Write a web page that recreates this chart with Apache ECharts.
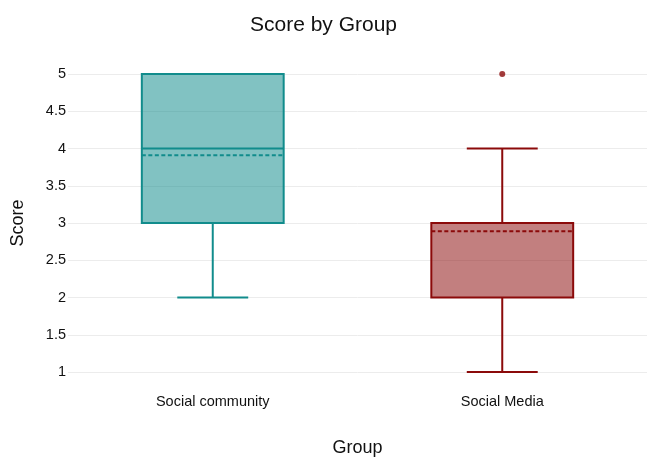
<!DOCTYPE html>
<html>
<head>
<meta charset="utf-8">
<script src="https://cdn.jsdelivr.net/npm/echarts@6/dist/echarts.min.js"></script>
<style>
  html, body { margin: 0; padding: 0; background: #fff; }
  #chart { width: 647px; height: 462px; }
</style>
</head>
<body>
<div id="chart"></div>
<script>
// Score distribution per group
const categories = ['Social community', 'Social Media'];
const lowerWhisker = [2, 1];
const q1 = [3, 2];
const median = [4, 3];
const q3 = [5, 3];
const upperWhisker = [5, 4];
const means = [3.91, 2.89];
const outliers = [[1, 5]]; // [group index, score]
const yTicks = [1, 1.5, 2, 2.5, 3, 3.5, 4, 4.5, 5];

const strokeColors = ['#118c8c', '#8b0a0a'];
const fillColors = ['rgba(17,140,140,0.53)', 'rgba(139,10,10,0.52)'];
const font = 'Liberation Sans';
const textColor = '#111';

const boxData = categories.map((c, i) =>
  [i, lowerWhisker[i], q1[i], median[i], q3[i], upperWhisker[i], means[i]]);

const chart = echarts.init(document.getElementById('chart'), null, { renderer: 'canvas' });

function renderBox(params, api) {
  const i = api.value(0);
  const band = api.size([1, 0])[0];
  const boxW = band * 0.49;
  const capW = boxW * 0.5;
  const cx = api.coord([i, 0])[0];
  const yLo = api.coord([i, api.value(1)])[1];
  const yQ1 = api.coord([i, api.value(2)])[1];
  const yMed = api.coord([i, api.value(3)])[1];
  const yQ3 = api.coord([i, api.value(4)])[1];
  const yHi = api.coord([i, api.value(5)])[1];
  const yMean = api.coord([i, api.value(6)])[1];
  const stroke = strokeColors[i];
  const lineStyle = { stroke: stroke, lineWidth: 2, fill: null };
  const x0 = cx - boxW / 2, x1 = cx + boxW / 2;
  const children = [
    { type: 'line', shape: { x1: cx, y1: yQ3, x2: cx, y2: yHi }, style: lineStyle },
    { type: 'line', shape: { x1: cx, y1: yQ1, x2: cx, y2: yLo }, style: lineStyle },
    { type: 'line', shape: { x1: cx - capW / 2, y1: yHi, x2: cx + capW / 2, y2: yHi }, style: lineStyle },
    { type: 'line', shape: { x1: cx - capW / 2, y1: yLo, x2: cx + capW / 2, y2: yLo }, style: lineStyle },
    { type: 'rect', shape: { x: x0, y: yQ3, width: boxW, height: yQ1 - yQ3 },
      style: { fill: fillColors[i], stroke: stroke, lineWidth: 2 } },
    { type: 'line', shape: { x1: x0, y1: yMed, x2: x1, y2: yMed }, style: lineStyle },
    { type: 'line', shape: { x1: x0, y1: yMean, x2: x1, y2: yMean },
      style: { stroke: stroke, lineWidth: 2, lineDash: [4, 2.5], fill: null } }
  ];
  return { type: 'group', children: children };
}

chart.setOption({
  backgroundColor: '#ffffff',
  animation: false,
  title: {
    text: 'Score by Group',
    left: 'center',
    top: 10,
    textStyle: { fontFamily: font, fontSize: 21, fontWeight: 'normal', color: textColor }
  },
  grid: { left: 68, right: 0, top: 74, bottom: 85 },
  xAxis: {
    type: 'category',
    data: categories,
    name: 'Group',
    nameLocation: 'middle',
    nameGap: 67,
    nameTextStyle: { fontFamily: font, fontSize: 18, color: textColor },
    axisLine: { show: false },
    axisTick: { show: false },
    axisLabel: { fontFamily: font, fontSize: 14.5, color: textColor, margin: 22 },
    splitLine: { show: false }
  },
  yAxis: {
    type: 'value',
    min: 1,
    max: 5,
    interval: 0.5,
    name: 'Score',
    nameLocation: 'middle',
    nameGap: 41,
    nameTextStyle: { fontFamily: font, fontSize: 18, color: textColor },
    axisLine: { show: false },
    axisTick: { show: false },
    axisLabel: {
      fontFamily: font, fontSize: 14.5, color: textColor, margin: 2,
      formatter: v => yTicks.includes(v) ? String(v) : ''
    },
    splitLine: { lineStyle: { color: '#ececec', width: 1 } }
  },
  series: [
    {
      type: 'custom',
      renderItem: renderBox,
      data: boxData,
      encode: { x: 0, y: [1, 2, 3, 4, 5, 6] },
      clip: false,
      z: 2
    },
    {
      type: 'scatter',
      data: outliers,
      symbol: 'circle',
      symbolSize: 6,
      itemStyle: { color: strokeColors[1] },
      clip: false,
      z: 3
    }
  ]
});
</script>
</body>
</html>
